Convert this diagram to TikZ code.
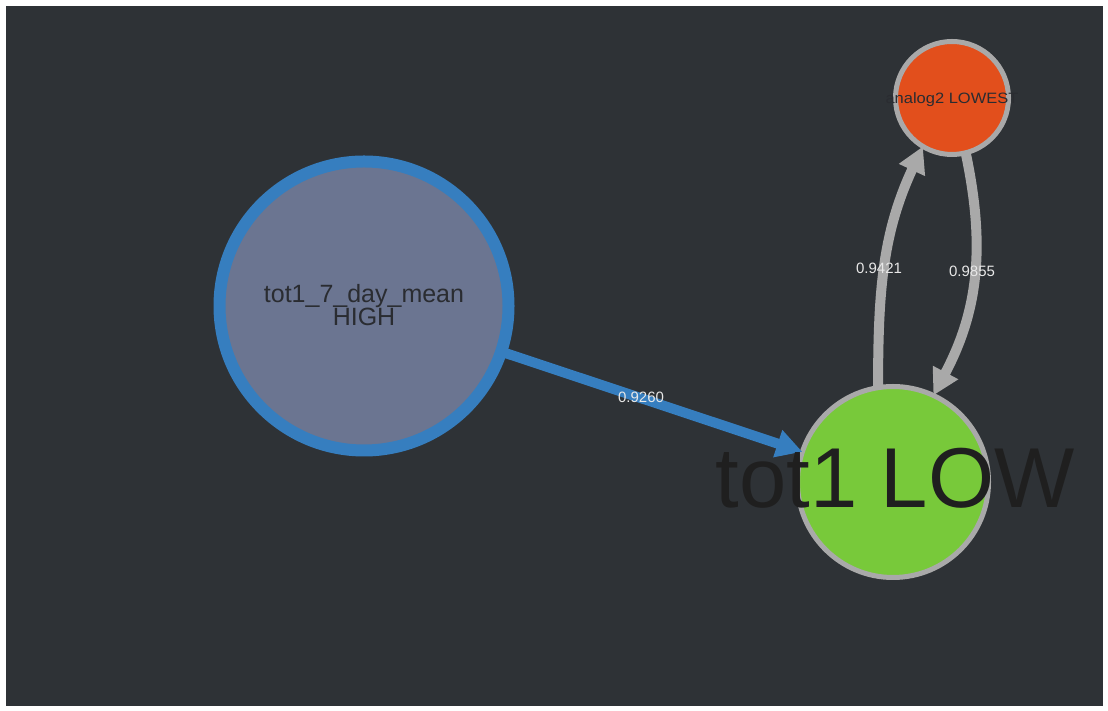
\documentclass[tikz,border=0pt]{standalone}
\usepackage{fontspec}
\setmainfont{Liberation Sans}
\usetikzlibrary{arrows.meta}

\definecolor{canvas}{HTML}{2E3236}
\definecolor{slate}{HTML}{6B7591}
\definecolor{linkblue}{HTML}{367EBF}
\definecolor{ring}{HTML}{A9A9A9}
\definecolor{leaf}{HTML}{78C93A}
\definecolor{ember}{HTML}{E24F1C}
\definecolor{ink}{HTML}{2A2C31}
\definecolor{weight}{HTML}{E8E8E8}

\tikzset{
  state/.style={circle, inner sep=0pt, outer sep=0pt},
  link/.style={line width=10pt, -{Triangle[length=26pt,width=27pt]}},
  weightlabel/.style={text=weight, inner sep=0pt, font=\fontsize{15}{15}\selectfont}
}

\begin{document}
\begin{tikzpicture}[x=1pt,y=1pt]
  \useasboundingbox (0,0) rectangle (1108,711);
  \fill[white] (0,0) rectangle (1108,711);
  \fill[canvas] (6,5) rectangle (1103,705);

  % states
  \node[state, draw=linkblue, line width=12pt, fill=slate, minimum size=289pt] (high) at (364,405) {};
  \node[state, draw=ring, line width=5pt, fill=leaf, minimum size=191pt] (low) at (893,229) {};
  \node[state, draw=ring, line width=5pt, fill=ember, minimum size=113pt] (lowest) at (952,613) {};

  % transitions
  \draw[link, draw=linkblue] (high) -- (low);
  \draw[link, draw=ring] (low.99) to[out=90,in=245] (lowest.239);
  \draw[link, draw=ring] (lowest.284) to[out=282,in=62] (low.65);

  % transition weights
  \node[weightlabel] (w1) at (641,314) {0.9260};
  \node[weightlabel] (w2) at (879,443) {0.9421};
  \node[weightlabel] (w3) at (972,440) {0.9855};

  % state names
  \node[text=ink, align=center, inner sep=0pt, font=\fontsize{25}{23}\selectfont] (hightext) at (364,406) {tot1\_7\_day\_mean\\HIGH};
  \node[text=black!88, anchor=base, inner sep=0pt, font=\fontsize{85}{85}\selectfont] (lowtext) at (895,203) {tot1 LOW};
  \node[text=ink, anchor=base, inner sep=0pt, xscale=1.1, font=\fontsize{15}{15}\selectfont] (lowesttext) at (952,607) {analog2 LOWEST};
\end{tikzpicture}
\end{document}
